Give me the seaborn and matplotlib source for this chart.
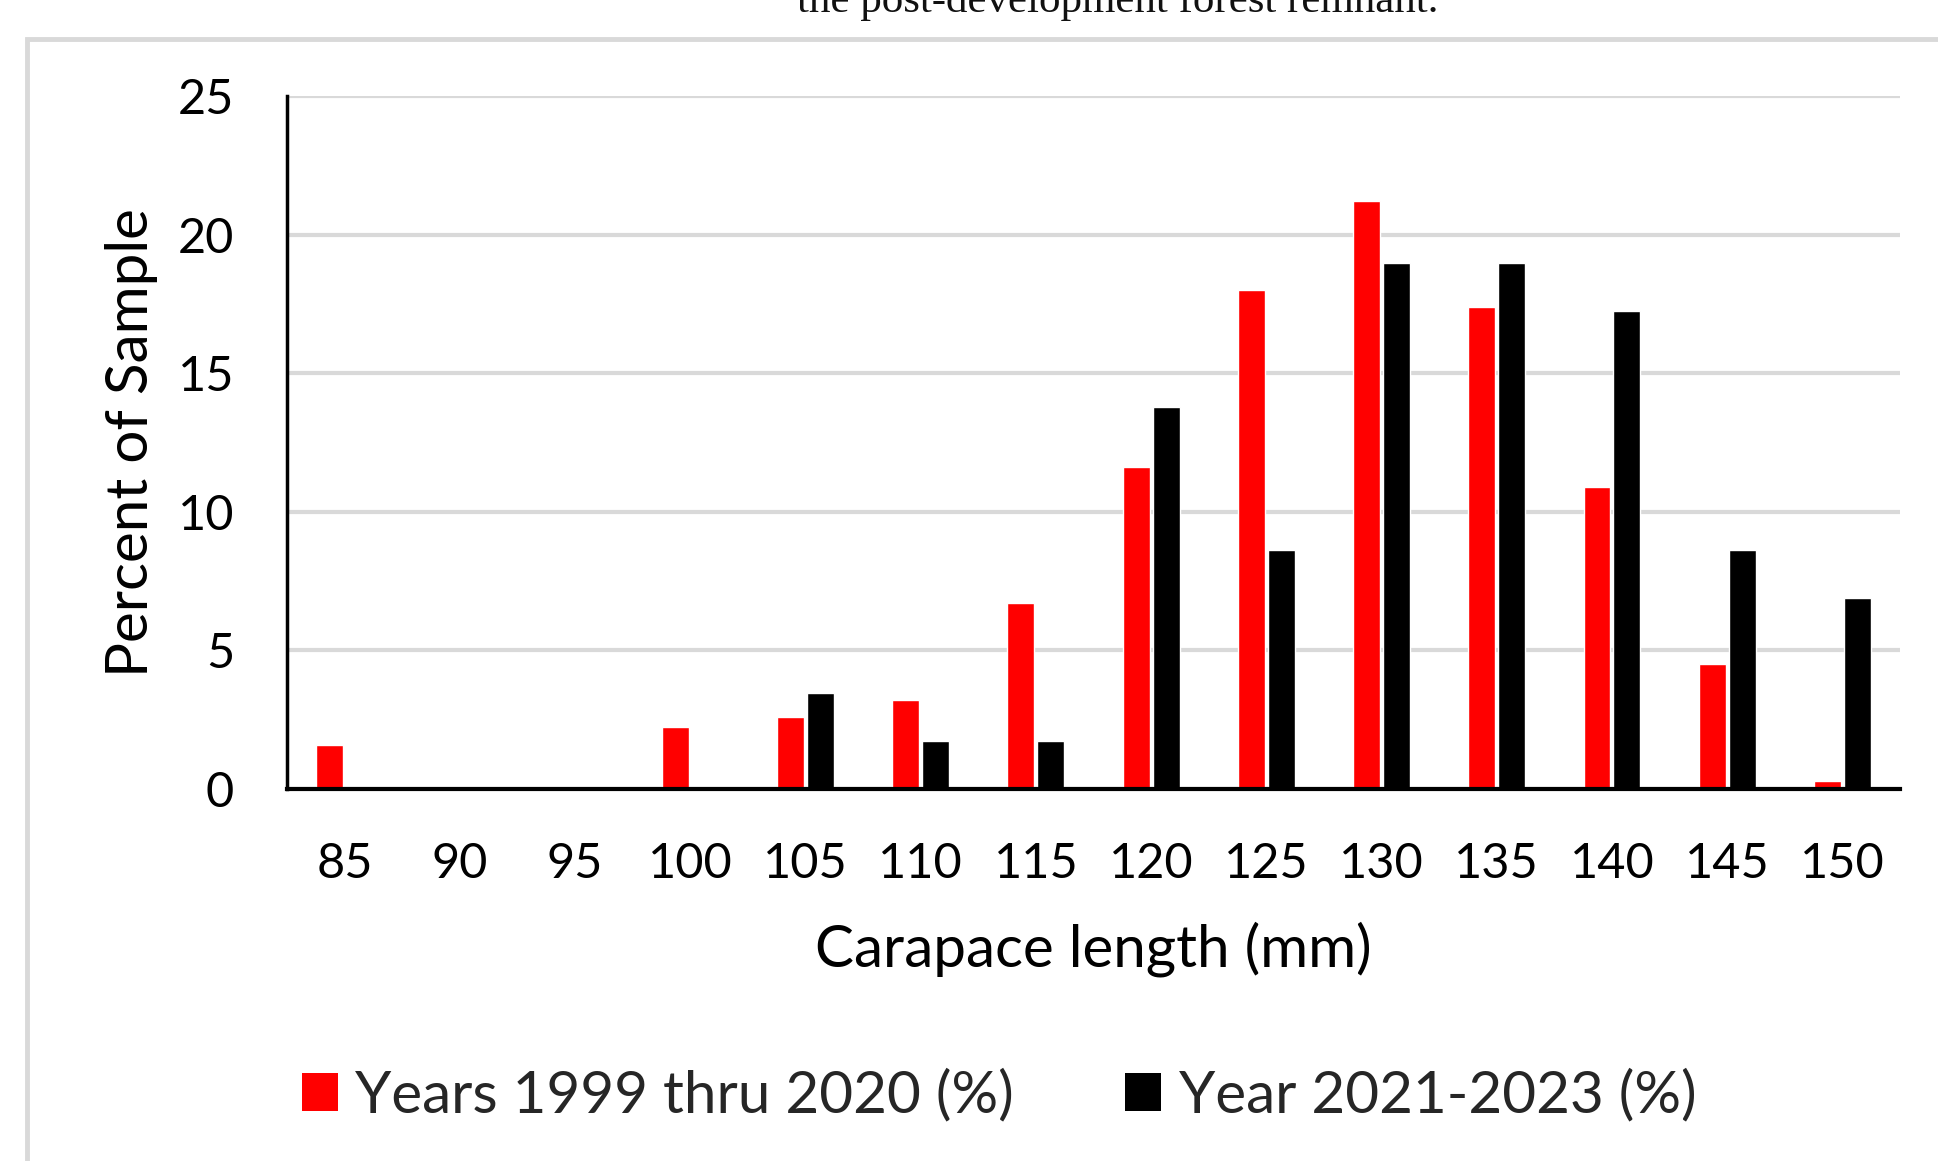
import matplotlib
matplotlib.use("Agg")
import matplotlib.pyplot as plt
from matplotlib.patches import Patch, Rectangle
import seaborn as sns
import pandas as pd

# Carapace length size classes (mm)
lengths = ["85", "90", "95", "100", "105", "110", "115",
           "120", "125", "130", "135", "140", "145", "150"]

# Percent of sample in each size class
pct_1999_2020 = [1.6, 0.0, 0.0, 2.25, 2.6, 3.2, 6.7,
                 11.6, 18.0, 21.2, 17.4, 10.9, 4.5, 0.3]
pct_2021_2023 = [0.0, 0.0, 0.0, 0.0, 3.45, 1.72, 1.72,
                 13.79, 8.62, 18.97, 18.97, 17.24, 8.62, 6.90]

series_names = ["Years 1999 thru 2020 (%)", "Year 2021-2023 (%)"]
series_colors = ["#FF0000", "#000000"]

df = pd.DataFrame({
    "length": lengths * 2,
    "pct": pct_1999_2020 + pct_2021_2023,
    "period": [series_names[0]] * len(lengths) + [series_names[1]] * len(lengths),
})

sns.set_theme(style="white")
plt.rcParams["font.family"] = ["Lato", "DejaVu Sans"]

W, H = 1938, 1161
fig = plt.figure(figsize=(W / 100, H / 100), dpi=100)
fig.patch.set_facecolor("white")

# light gray chart frame (top and left edges visible)
fig.patches.append(Rectangle((27 / W, -0.1), 1.2, (H - 39) / H + 0.1,
                             transform=fig.transFigure, fill=False,
                             edgecolor="#d9d9d9", linewidth=3.5))

# caption line partly cut at the top edge
fig.text(1118 / W, 1 - 12 / H, "the post-development forest remnant.",
         ha="center", va="baseline", fontsize=31,
         family=["Liberation Serif", "DejaVu Serif"], color="#111111")

ax = fig.add_axes([287 / W, 1 - 789 / H, (1900 - 287) / W, (789 - 96) / H])

sns.barplot(data=df, x="length", y="pct", hue="period", order=lengths,
            hue_order=series_names, palette=series_colors,
            width=0.52, gap=0.1, saturation=1, legend=False, ax=ax)

ax.set_ylim(0, 25)
ax.set_yticks([0, 5, 10, 15, 20, 25])
ax.set_xlim(-0.5, len(lengths) - 0.5)
ax.yaxis.grid(True, color="#d9d9d9", linewidth=3)
ax.xaxis.grid(False)
ax.set_axisbelow(True)

for side in ["top", "right"]:
    ax.spines[side].set_visible(False)
ax.spines["left"].set_color("black")
ax.spines["left"].set_linewidth(2.5)
ax.spines["bottom"].set_color("black")
ax.spines["bottom"].set_linewidth(3)

ax.tick_params(axis="both", length=0, labelsize=35, colors="black")
ax.tick_params(axis="x", pad=38)
ax.tick_params(axis="y", pad=38)

ax.set_xlabel("Carapace length (mm)", fontsize=42, color="black")
ax.set_ylabel("Percent of Sample", fontsize=42, color="black")
ax.xaxis.set_label_coords(0.5, (789 - 949) / (789 - 96))
ax.xaxis.label.set_va("center")
ax.yaxis.set_label_coords((131 - 287) / (1900 - 287), 0.5)
ax.yaxis.label.set_va("center")

handles = [Patch(facecolor=c, edgecolor="none") for c in series_colors]
fig.legend(handles, series_names, loc="center",
           bbox_to_anchor=(999 / W, 1 - 1096 / H), ncol=2, frameon=False,
           fontsize=42, handlelength=0.62, handleheight=0.62,
           handletextpad=0.3, columnspacing=1.9)

fig.savefig("out.png", dpi=100, facecolor="white")
